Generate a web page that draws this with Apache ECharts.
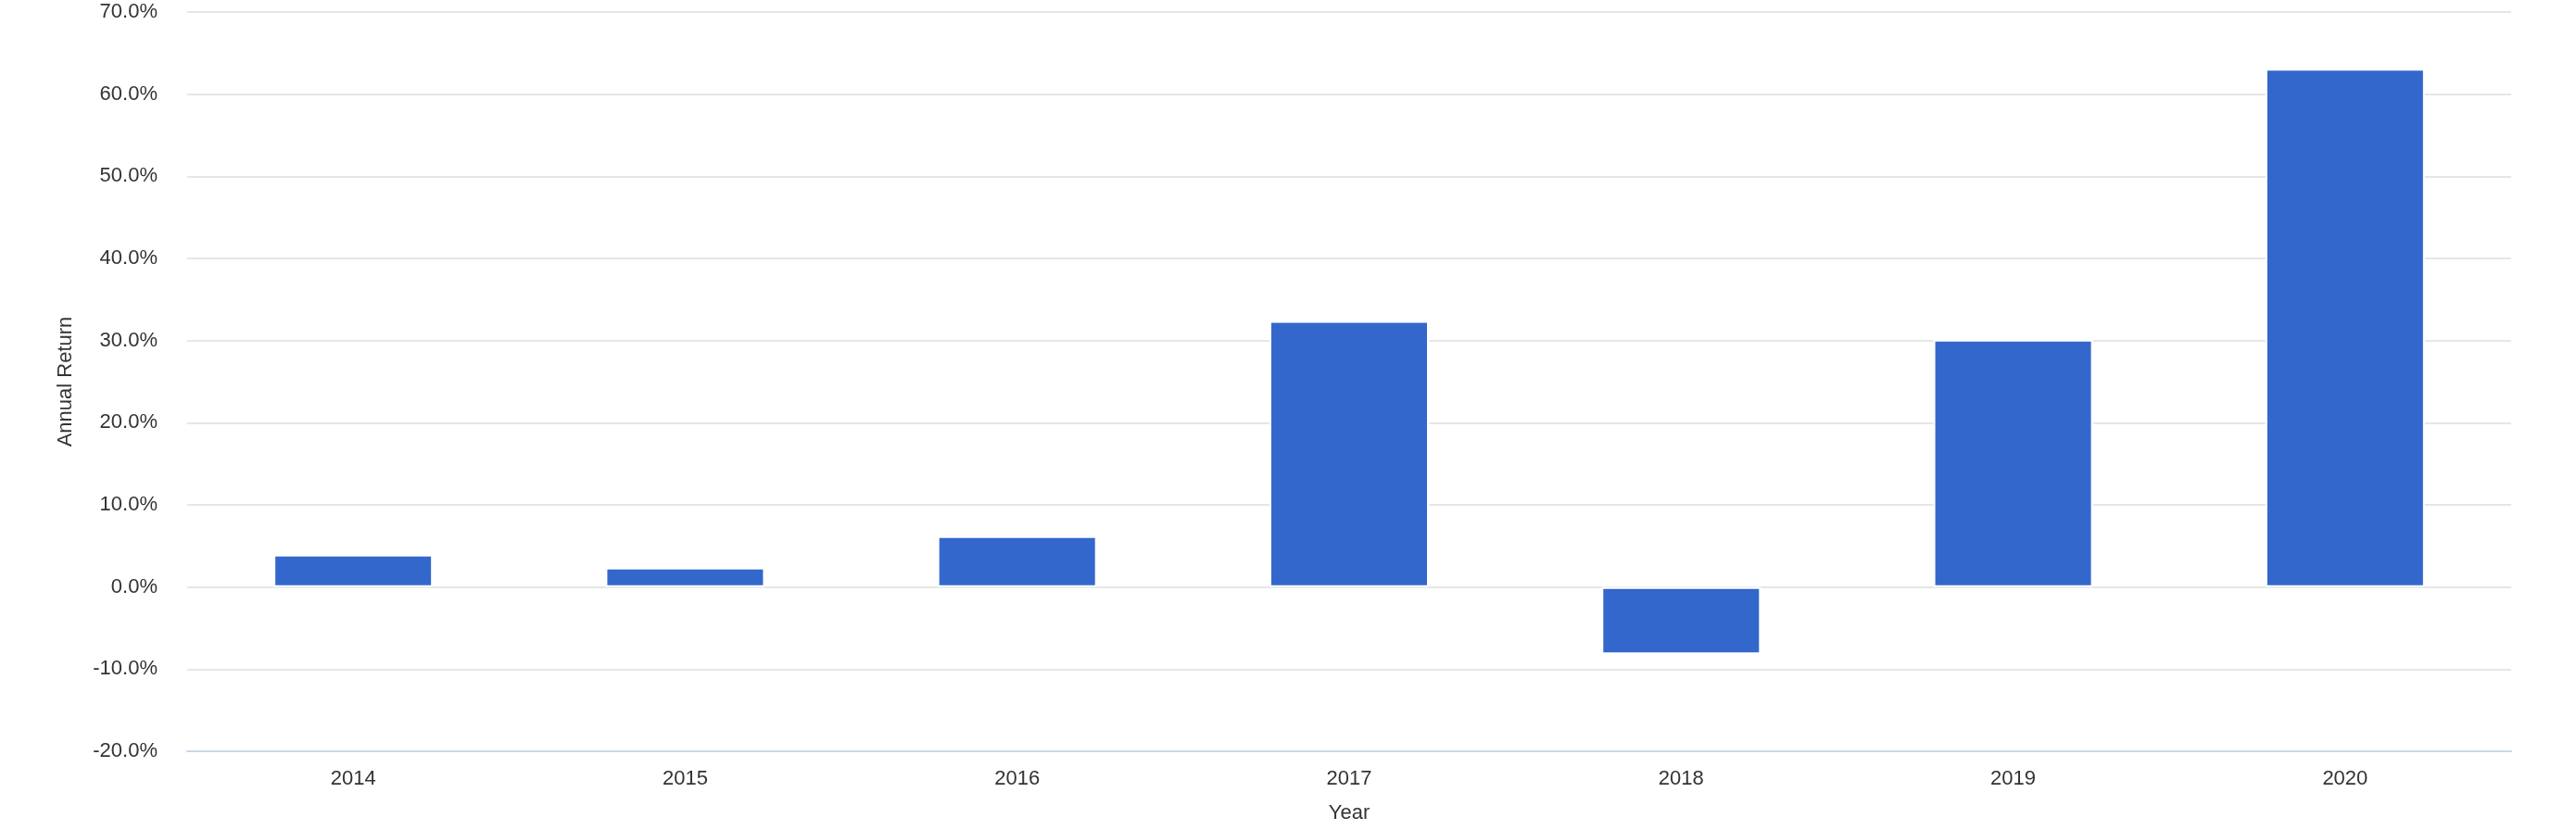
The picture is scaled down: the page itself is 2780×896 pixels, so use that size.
<!DOCTYPE html>
<html>
<head>
<meta charset="utf-8">
<title>Annual Return</title>
<script src="https://cdn.jsdelivr.net/npm/echarts@6/dist/echarts.min.js"></script>
<style>
  html, body { margin: 0; padding: 0; background: #fff; }
  #chart { width: 2780px; height: 896px; }
</style>
</head>
<body>
<div id="chart"></div>
<script>
// Data (annual return, percent)
const years = ["2014", "2015", "2016", "2017", "2018", "2019", "2020"];
const annualReturns = [3.95, 2.35, 6.2, 32.4, -8.2, 30.1, 63.1];

const axisMin = -20;
const axisMax = 70;
const axisStep = 10;

const chart = echarts.init(document.getElementById("chart"));

const option = {
  animation: false,
  textStyle: { fontFamily: "Liberation Sans, Arial, sans-serif" },
  grid: {
    left: 202,
    right: 70,
    top: 13,
    bottom: 85,
  },
  xAxis: {
    type: "category",
    data: years,
    name: "Year",
    nameLocation: "middle",
    nameGap: 56,
    nameTextStyle: { fontSize: 22, color: "#333333" },
    // axis line sits at the bottom of the grid, not at zero
    axisLine: { show: true, onZero: false, lineStyle: { color: "#ccd6eb", width: 2 } },
    axisTick: { show: false },
    axisLabel: { fontSize: 22, color: "#333333", margin: 19 },
    splitLine: { show: false },
  },
  yAxis: {
    type: "value",
    min: axisMin,
    max: axisMax,
    interval: axisStep,
    name: "Annual Return",
    nameLocation: "middle",
    nameGap: 120,
    nameTextStyle: { fontSize: 22, color: "#333333" },
    axisLine: { show: false },
    axisTick: { show: false },
    axisLabel: {
      fontSize: 22,
      color: "#333333",
      margin: 32,
      formatter: function (v) {
        return v.toFixed(1) + "%";
      },
    },
    splitLine: { lineStyle: { color: "#e6e6e6", width: 2 } },
  },
  series: [
    {
      name: "Annual Return",
      type: "bar",
      data: annualReturns,
      barWidth: 172,
      itemStyle: {
        color: "#3367cc",
        borderColor: "#ffffff",
        borderWidth: 2,
      },
    },
  ],
};

chart.setOption(option);

window.addEventListener("resize", function () {
  chart.resize();
});
</script>
</body>
</html>
